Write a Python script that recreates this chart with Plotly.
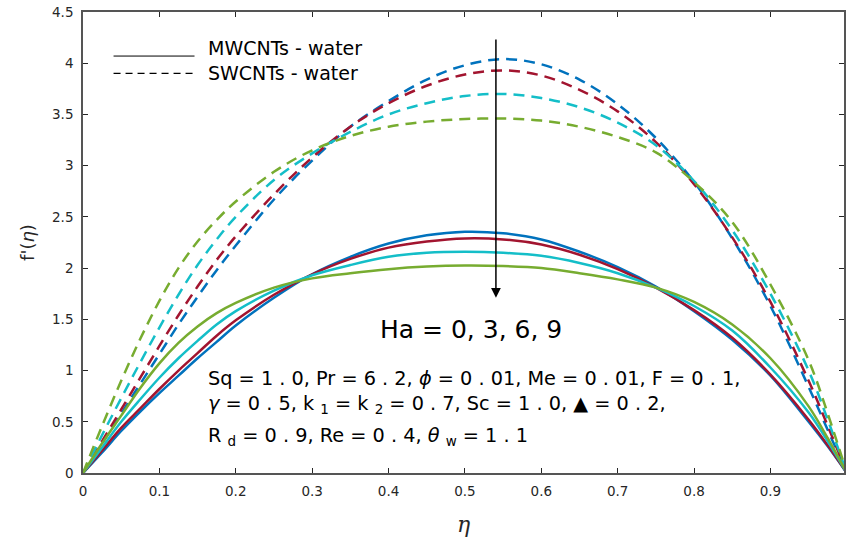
import plotly.graph_objects as go

# similarity variable eta and velocity profiles f'(eta) for Ha = 0, 3, 6, 9
eta = [0, 0.025, 0.05, 0.075, 0.1, 0.125, 0.15, 0.175, 0.2, 0.25, 0.3, 0.35, 0.4,
       0.45, 0.5, 0.55, 0.6, 0.65, 0.7, 0.75, 0.8, 0.85, 0.9, 0.95, 0.975, 1.0]

ha_values = [0, 3, 6, 9]

# MWCNTs - water (solid)
mw_ha0 = [0, 0.20, 0.41, 0.60, 0.78, 0.95, 1.12, 1.28, 1.44, 1.71, 1.94, 2.11, 2.24,
          2.32, 2.355, 2.34, 2.28, 2.16, 2.01, 1.82, 1.58, 1.30, 0.95, 0.50, 0.26, 0]
mw_ha3 = [0, 0.22, 0.44, 0.63, 0.82, 1.00, 1.17, 1.34, 1.49, 1.74, 1.94, 2.09, 2.20,
          2.26, 2.29, 2.28, 2.23, 2.13, 1.99, 1.81, 1.59, 1.32, 0.96, 0.52, 0.27, 0]
mw_ha6 = [0, 0.25, 0.50, 0.72, 0.93, 1.12, 1.29, 1.45, 1.58, 1.78, 1.93, 2.03, 2.11,
          2.15, 2.16, 2.15, 2.12, 2.05, 1.95, 1.81, 1.63, 1.39, 1.03, 0.59, 0.31, 0]
mw_ha9 = [0, 0.29, 0.56, 0.83, 1.07, 1.27, 1.43, 1.56, 1.66, 1.81, 1.90, 1.95, 1.99,
          2.015, 2.025, 2.02, 2.00, 1.95, 1.89, 1.81, 1.67, 1.45, 1.12, 0.65, 0.34, 0]

# SWCNTs - water (dashed)
sw_ha0 = [0, 0.29, 0.58, 0.87, 1.16, 1.45, 1.72, 1.98, 2.22, 2.67, 3.05, 3.38, 3.63,
          3.84, 3.98, 4.04, 3.99, 3.84, 3.60, 3.27, 2.84, 2.29, 1.63, 0.84, 0.42, 0]
sw_ha3 = [0, 0.31, 0.62, 0.93, 1.24, 1.54, 1.82, 2.08, 2.31, 2.72, 3.08, 3.38, 3.61,
          3.78, 3.89, 3.93, 3.88, 3.74, 3.53, 3.23, 2.82, 2.30, 1.67, 0.90, 0.46, 0]
sw_ha6 = [0, 0.37, 0.73, 1.08, 1.42, 1.74, 2.03, 2.28, 2.50, 2.86, 3.12, 3.33, 3.50,
          3.61, 3.68, 3.70, 3.66, 3.57, 3.42, 3.20, 2.85, 2.37, 1.75, 1.00, 0.52, 0]
sw_ha9 = [0, 0.46, 0.90, 1.31, 1.68, 2.00, 2.26, 2.47, 2.65, 2.94, 3.15, 3.29, 3.38,
          3.43, 3.455, 3.46, 3.44, 3.38, 3.28, 3.13, 2.84, 2.45, 1.84, 1.10, 0.58, 0]

colors = ["#0072BD", "#A2142F", "#14BEC8", "#77AC30"]

x_ticks = [0, 0.1, 0.2, 0.3, 0.4, 0.5, 0.6, 0.7, 0.8, 0.9, 1]
x_tick_text = ["0", "0.1", "0.2", "0.3", "0.4", "0.5", "0.6", "0.7", "0.8", "0.9", "1"]
y_ticks = [0, 0.5, 1, 1.5, 2, 2.5, 3, 3.5, 4, 4.5]
y_tick_text = ["0", "0.5", "1", "1.5", "2", "2.5", "3", "3.5", "4", "4.5"]

fig = go.Figure()

for ys, c, ha in zip([sw_ha0, sw_ha3, sw_ha6, sw_ha9], colors, ha_values):
    fig.add_trace(go.Scatter(x=eta, y=ys, mode="lines", name=f"SWCNTs Ha={ha}",
                             line=dict(color=c, width=2.5, dash="11px,7px", shape="spline",
                                       smoothing=1.0),
                             showlegend=False))
for ys, c, ha in zip([mw_ha0, mw_ha3, mw_ha6, mw_ha9], colors, ha_values):
    fig.add_trace(go.Scatter(x=eta, y=ys, mode="lines", name=f"MWCNTs Ha={ha}",
                             line=dict(color=c, width=2.5, shape="spline", smoothing=1.0),
                             showlegend=False))

font_family = "DejaVu Sans, Liberation Sans, sans-serif"
axis_col = "#262626"

# legend drawn as line samples with labels
legend_x0, legend_x1, legend_tx = 0.040, 0.146, 0.161
fig.add_shape(type="line", x0=legend_x0, x1=legend_x1, y0=4.07, y1=4.07,
              line=dict(color="black", width=1))
fig.add_shape(type="line", x0=legend_x0, x1=legend_x1, y0=3.90, y1=3.90,
              line=dict(color="black", width=1.2, dash="7px,5px"))
fig.add_annotation(x=legend_tx, y=4.145, text="MWCNTs - water", showarrow=False,
                   xanchor="left", yanchor="middle", font=dict(size=19, color="black"))
fig.add_annotation(x=legend_tx, y=3.90, text="SWCNTs - water", showarrow=False,
                   xanchor="left", yanchor="middle", font=dict(size=19, color="black"))

# arrow indicating increasing Ha
fig.add_annotation(x=0.5406, y=1.71, ax=0.5406, ay=4.245, axref="x", ayref="y",
                   xref="x", yref="y", showarrow=True, arrowhead=2, arrowsize=1.3,
                   arrowwidth=1.5, arrowcolor="black", text="")
fig.add_annotation(x=0.508, y=1.405, text="Ha = 0, 3, 6, 9", showarrow=False,
                   xanchor="center", yanchor="middle", font=dict(size=25, color="black"))

params = [
    "Sq = 1 . 0, Pr = 6 . 2, <i>ϕ</i> = 0 . 01, Me = 0 . 01, F = 0 . 1,",
    "<i>γ</i> = 0 . 5, k <sub>1</sub> = k <sub>2</sub> = 0 . 7, Sc = 1 . 0, ▲ = 0 . 2,",
    "R <sub>d</sub> = 0 . 9, Re = 0 . 4, <i>θ</i> <sub>w</sub> = 1 . 1",
]
for txt, yv in zip(params, [0.92, 0.67, 0.36]):
    fig.add_annotation(x=0.161, y=yv, text=txt, showarrow=False, xanchor="left",
                       yanchor="middle", font=dict(size=19.3, color="black"))

fig.update_layout(
    width=846, height=537,
    margin=dict(l=83, r=0, t=12, b=64),
    paper_bgcolor="white", plot_bgcolor="white",
    font=dict(family=font_family, color=axis_col),
    showlegend=False,
)
fig.update_xaxes(range=[0, 0.9963], tickvals=x_ticks, ticktext=x_tick_text,
                 ticks="inside", ticklen=5, tickwidth=1, tickcolor=axis_col,
                 showline=True, linecolor="#555555", linewidth=1.6, mirror="ticks",
                 showgrid=False, zeroline=False, ticklabelstandoff=5,
                 tickfont=dict(size=13.5, color=axis_col),
                 title=dict(text="<i>η</i>", font=dict(size=22, family="DejaVu Serif, serif",
                                                       color=axis_col), standoff=20))
fig.update_yaxes(range=[0, 4.5], tickvals=y_ticks, ticktext=y_tick_text,
                 ticks="inside", ticklen=5, tickwidth=1, tickcolor=axis_col,
                 showline=True, linecolor="#555555", linewidth=1.6, mirror="ticks",
                 showgrid=False, zeroline=False, ticklabelstandoff=5,
                 tickfont=dict(size=13.5, color=axis_col),
                 title=dict(text="f'(<i>η</i>)", font=dict(size=18, color=axis_col), standoff=13))

fig.write_html("out.html")
